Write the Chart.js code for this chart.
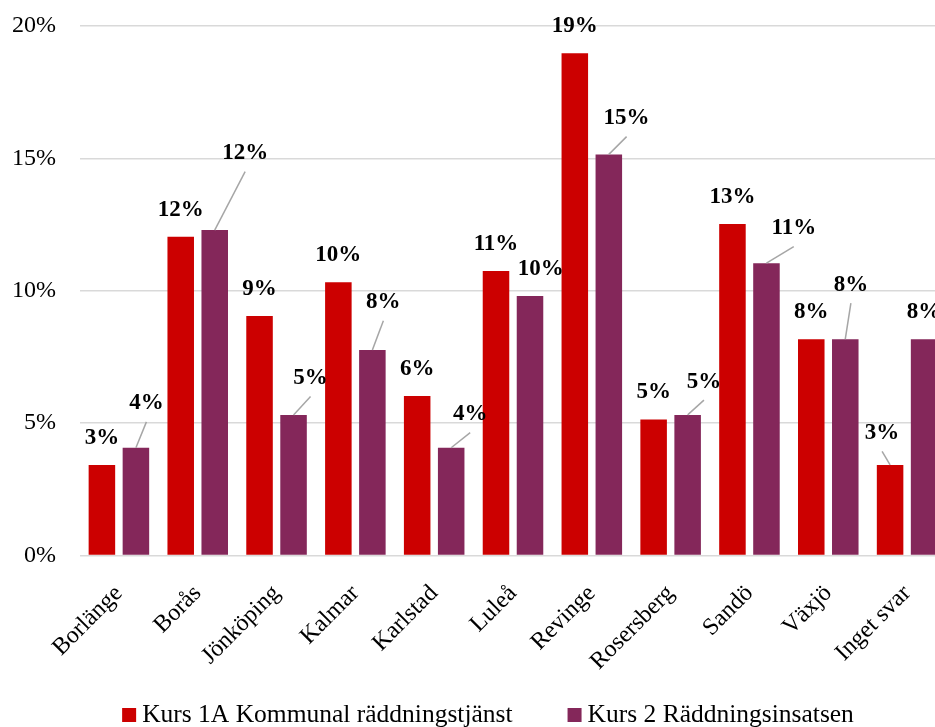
<!DOCTYPE html>
<html><head><meta charset="utf-8">
<script src="https://cdn.jsdelivr.net/npm/chart.js@4.4.1/dist/chart.umd.min.js"></script>
<style>
html,body{margin:0;padding:0;overflow:hidden;background:#fff;width:935px;height:727px}
#wrap{position:relative;width:947px;height:727px}
canvas{display:block}
</style></head><body>
<div id="wrap"><canvas id="c" width="947" height="727"></canvas></div>
<script>
// ---- data ----
const categories = ['Borlänge','Borås','Jönköping','Kalmar','Karlstad','Luleå','Revinge','Rosersberg','Sandö','Växjö','Inget svar'];
const seriesNames = ['Kurs 1A Kommunal räddningstjänst','Kurs 2 Räddningsinsatsen'];
const kurs1A = [3.42, 12.04, 9.05, 10.32, 6.02, 10.75, 18.97, 5.14, 12.52, 8.17, 3.42];
const kurs2  = [4.07, 12.29, 5.31, 7.76, 4.07, 9.80, 15.15, 5.31, 11.04, 8.17, 8.17];
const yTicks = [0, 5, 10, 15, 20];

// ---- styles / label placement (not data) ----
const COLORS = ['#CC0000', '#84275A'];
const FONT = '"Liberation Serif", "DejaVu Serif", serif';
// per-dataset label nudges: index -> [dx, dy, leaderLine]
const labelNudges = [
  {10: [-8, -32, true]},
  {0: [10.5, -44.4, true], 1: [30.4, -77, true], 2: [17, -37, true], 3: [11, -47.7, true],
   4: [19, -33.7, true], 5: [10.7, -27, false], 6: [17.8, -36.3, true], 7: [16.3, -33.3, true],
   8: [27.3, -35, true], 9: [5.6, -54.6, true]}
];

const dataLabelPlugin = {
  id: 'dataLabels',
  afterDatasetsDraw(chart) {
    const ctx = chart.ctx;
    ctx.save();
    ctx.font = 'bold 23px ' + FONT;
    ctx.textAlign = 'center';
    ctx.textBaseline = 'middle';
    chart.data.datasets.forEach((ds, di) => {
      const meta = chart.getDatasetMeta(di);
      meta.data.forEach((bar, i) => {
        const n = labelNudges[di][i] || [0, -27, false];
        const lx = bar.x + n[0], ly = bar.y + n[1];
        if (n[2]) {
          ctx.strokeStyle = '#A6A6A6';
          ctx.lineWidth = 1.5;
          ctx.beginPath();
          ctx.moveTo(lx, ly + 18.5);
          ctx.lineTo(bar.x, bar.y);
          ctx.stroke();
        }
        ctx.fillStyle = '#000';
        ctx.fillText(Math.round(ds.data[i]) + '%', lx, ly);
      });
    });
    ctx.restore();
  }
};

const legendPlugin = {
  id: 'customLegend',
  afterDraw(chart) {
    const ctx = chart.ctx;
    ctx.save();
    ctx.font = '25.5px ' + FONT;
    const box = 14, gap = 6, spacing = 55;
    const items = chart.data.datasets.map(d => ({label: d.label, color: d.backgroundColor, w: ctx.measureText(d.label).width}));
    const total = items.reduce((s, it) => s + box + gap + it.w, 0) + spacing * (items.length - 1);
    let x = 488 - total / 2;
    ctx.textBaseline = 'alphabetic';
    ctx.textAlign = 'left';
    items.forEach(it => {
      ctx.fillStyle = it.color;
      ctx.fillRect(x, 708, box, box);
      ctx.fillStyle = '#000';
      ctx.fillText(it.label, x + box + gap, 722);
      x += box + gap + it.w + spacing;
    });
    ctx.restore();
  }
};

new Chart(document.getElementById('c'), {
  type: 'bar',
  data: {
    labels: categories,
    datasets: [
      {label: seriesNames[0], data: kurs1A, backgroundColor: COLORS[0]},
      {label: seriesNames[1], data: kurs2, backgroundColor: COLORS[1]}
    ]
  },
  options: {
    responsive: false,
    animation: false,
    devicePixelRatio: 1,
    categoryPercentage: 0.863,
    barPercentage: 0.78,
    layout: {padding: {top: 26, bottom: 40, left: 0, right: 0.5}},
    plugins: {legend: {display: false}, tooltip: {enabled: false}},
    scales: {
      x: {
        grid: {display: false},
        border: {display: false},
        ticks: {
          autoSkip: false, minRotation: 45, maxRotation: 45,
          color: '#000', font: {family: FONT, size: 24}, padding: 16
        },
        afterFit(s) { s.height = 131.5; }
      },
      y: {
        min: 0, max: 20,
        grid: {color: '#D9D9D9', lineWidth: 1.5, drawTicks: false},
        border: {display: false},
        ticks: {color: '#000', font: {family: FONT, size: 24}, padding: 23.5, callback: v => v + '%'},
        afterBuildTicks(s) { s.ticks = yTicks.map(v => ({value: v})); },
        afterFit(s) { s.width = 79.5; s.paddingTop = 0; s.paddingBottom = 0; }
      }
    }
  },
  plugins: [dataLabelPlugin, legendPlugin]
});
</script>
</body></html>
